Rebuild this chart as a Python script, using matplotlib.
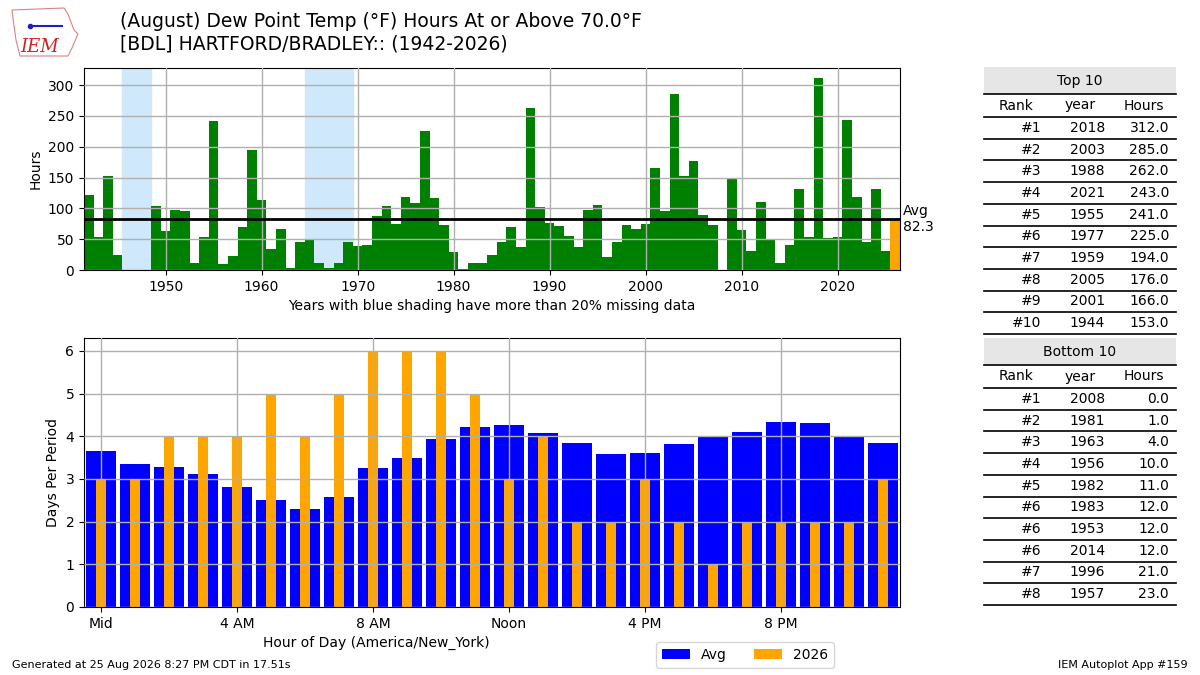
import matplotlib
matplotlib.use("Agg")
import matplotlib.pyplot as plt
from matplotlib.patches import Rectangle, Polygon
import numpy as np

# ---------------- data ----------------
years = list(range(1942, 2027))
hours = [121, 53, 153, 24, 0, 0, 0, 103, 63, 98,
         95, 12, 53, 241, 10, 23, 70, 194, 113, 34,
         66, 4, 45, 48, 12, 4, 12, 45, 39, 40,
         87, 103, 74, 119, 108, 225, 116, 73, 29, 1,
         11, 12, 24, 45, 69, 37, 262, 102, 76, 71,
         55, 37, 98, 106, 21, 45, 73, 66, 74, 166,
         95, 285, 153, 176, 90, 73, 0, 147, 65, 31,
         110, 48, 12, 40, 132, 53, 312, 52, 53, 243,
         118, 45, 131, 31, 82]
avg_hours = 82.3
missing_spans = [(1946, 1948), (1965, 1969)]

hour_of_day = list(range(24))
avg_days = [3.66, 3.36, 3.29, 3.12, 2.82, 2.50, 2.29, 2.57, 3.26, 3.50, 3.94, 4.22,
            4.26, 4.08, 3.84, 3.59, 3.61, 3.82, 4.01, 4.10, 4.33, 4.31, 3.98, 3.84]
days_2026 = [3, 3, 4, 4, 4, 5, 4, 5, 6, 6, 6, 5,
             3, 4, 2, 2, 3, 2, 1, 2, 2, 2, 2, 3]
hour_ticks = [0, 4, 8, 12, 16, 20]
hour_labels = ["Mid", "4 AM", "8 AM", "Noon", "4 PM", "8 PM"]

top_ranks = ["#1", "#2", "#3", "#4", "#5", "#6", "#7", "#8", "#9", "#10"]
top_years = [2018, 2003, 1988, 2021, 1955, 1977, 1959, 2005, 2001, 1944]
top_hours = [312.0, 285.0, 262.0, 243.0, 241.0, 225.0, 194.0, 176.0, 166.0, 153.0]
bot_ranks = ["#1", "#2", "#3", "#4", "#5", "#6", "#6", "#6", "#7", "#8"]
bot_years = [2008, 1981, 1963, 1956, 1982, 1983, 1953, 2014, 1996, 1957]
bot_hours = [0.0, 1.0, 4.0, 10.0, 11.0, 12.0, 12.0, 12.0, 21.0, 23.0]

title = "(August) Dew Point Temp (°F) Hours At or Above 70.0°F\n[BDL] HARTFORD/BRADLEY:: (1942-2026)"

W, H = 1200, 675
fig = plt.figure(figsize=(12, 6.75), dpi=100)

def fx(px):
    return px / W

def fy(py):
    return 1 - py / H

# ---------------- top axes ----------------
ax1 = fig.add_axes([fx(84), fy(270), fx(900 - 84), (270 - 68) / H])
colors = ["green"] * (len(years) - 1) + ["orange"]
for s, e in missing_spans:
    ax1.axvspan(s - 0.5, e + 0.5, color="#cfe8fb", zorder=0)
ax1.bar(years, hours, width=1.0, color=colors, zorder=1)
ax1.set_axisbelow(False)
ax1.grid(True, color="#b0b0b0", linewidth=1, zorder=2)
ax1.axhline(avg_hours, color="black", linewidth=2, zorder=3)
ax1.text(2026.5 + 0.3, avg_hours, "Avg\n%.1f" % avg_hours, va="center", ha="left",
         fontsize=10)
ax1.set_xlim(1941.5, 2026.5)
ax1.set_ylim(0, max(hours) * 1.05)
ax1.set_yticks(range(0, 301, 50))
ax1.set_xticks(range(1950, 2021, 10))
ax1.set_ylabel("Hours", fontsize=10)
ax1.set_xlabel("Years with blue shading have more than 20% missing data", fontsize=10)

# ---------------- bottom axes ----------------
ax2 = fig.add_axes([fx(84), fy(607), fx(900 - 84), (607 - 338) / H])
ax2.bar(hour_of_day, avg_days, width=0.86, color="blue", label="Avg", zorder=1)
ax2.bar(hour_of_day, days_2026, width=0.27, color="orange", label="2026", zorder=1)
ax2.set_axisbelow(False)
ax2.grid(True, color="#b0b0b0", linewidth=1, zorder=2)
ax2.set_xlim(-0.5, 23.5)
ax2.set_ylim(0, max(days_2026) * 1.05)
ax2.set_xticks(hour_ticks)
ax2.set_xticklabels(hour_labels)
ax2.set_yticks(range(0, 7))
ax2.set_ylabel("Days Per Period", fontsize=10)
ax2.set_xlabel("Hour of Day (America/New_York)", fontsize=10)
ax2.xaxis.set_label_coords((376 - 84) / 816, -0.107)
fig.legend(loc="center", bbox_to_anchor=(fx(745), fy(655)), ncol=2, fontsize=10)

# ---------------- tables ----------------
tax = fig.add_axes([0, 0, 1, 1])
tax.set_xlim(0, W)
tax.set_ylim(H, 0)
tax.axis("off")

cols = [984, 1048, 1112, 1176]

def draw_table(top, label, ranks, yrs, hrs):
    gray_bot = top + 27
    hdr_bot = gray_bot + 23
    row_h = 21.7
    tax.add_patch(Rectangle((cols[0], top), cols[3] - cols[0], gray_bot - top,
                            facecolor="#e6e6e6", edgecolor="none"))
    tax.text((cols[0] + cols[3]) / 2, (top + gray_bot) / 2, label, ha="center",
             va="center", fontsize=10)
    tax.plot([cols[0], cols[3]], [gray_bot, gray_bot], color="black", lw=1.2)
    for i, h in enumerate(["Rank", "year", "Hours"]):
        tax.text((cols[i] + cols[i + 1]) / 2, (gray_bot + hdr_bot) / 2, h,
                 ha="center", va="center", fontsize=10)
    tax.plot([cols[0], cols[3]], [hdr_bot, hdr_bot], color="black", lw=1.2)
    for r in range(len(ranks)):
        y0 = hdr_bot + r * row_h
        yc = y0 + row_h / 2
        vals = [ranks[r], str(yrs[r]), "%.1f" % hrs[r]]
        for i, v in enumerate(vals):
            tax.text(cols[i + 1] - 7, yc, v, ha="right", va="center", fontsize=10)
        tax.plot([cols[0], cols[3]], [y0 + row_h, y0 + row_h], color="black", lw=1.2)

draw_table(67, "Top 10", top_ranks, top_years, top_hours)
draw_table(338, "Bottom 10", bot_ranks, bot_years, bot_hours)

# ---------------- titles / logo / footer ----------------
fig.text(fx(120), fy(33), title, ha="left", va="center", fontsize=13.5,
         linespacing=1.25)
tax.add_patch(Polygon([(12, 10), (64, 8), (68, 14), (74, 30), (78, 34), (72, 48),
                       (68, 56), (20, 56), (16, 40), (14, 26)],
                      closed=True, facecolor="none", edgecolor="#e08080", lw=0.8))
tax.text(40, 47, "IEM", color="#d42020", fontsize=13, family="serif", style="italic",
         ha="center", va="center")
tax.plot([30, 62], [26, 26], color="#2020c0", lw=1.5)
tax.plot([30], [26], "o", color="#2020c0", ms=3)

fig.text(fx(12), fy(665), "Generated at 25 Aug 2026 8:27 PM CDT in 17.51s",
         ha="left", va="center", fontsize=8)
fig.text(fx(1188), fy(665), "IEM Autoplot App #159", ha="right", va="center",
         fontsize=8)

fig.savefig("out.png", dpi=100)
